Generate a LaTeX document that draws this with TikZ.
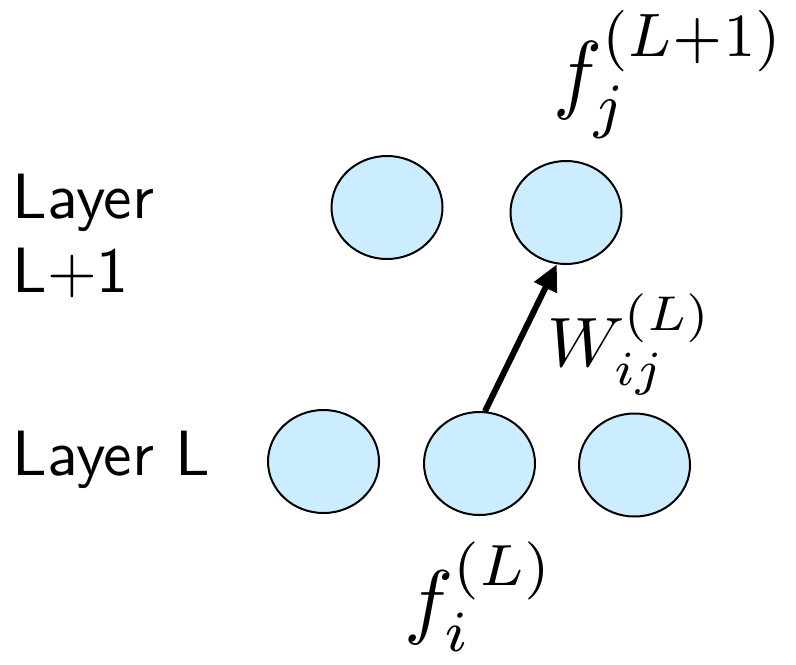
\documentclass[tikz,border=0pt]{standalone}
\usepackage{graphicx}
\usetikzlibrary{shapes.geometric,arrows.meta}
\definecolor{neuronblue}{RGB}{204,236,255}
\tikzset{
  neuron/.style={ellipse, draw=black, line width=1pt, fill=neuronblue,
    minimum width=55.5pt, minimum height=51.5pt, inner sep=0pt},
  layerlabel/.style={font=\sffamily, inner sep=0pt, anchor=base west},
  mathlabel/.style={inner sep=0pt, anchor=north west},
  weight/.style={line width=3pt, -{Triangle[length=13pt,width=12pt]}}
}
\begin{document}
\begin{tikzpicture}[x=0.5pt,y=-0.5pt]
\useasboundingbox (0,0) rectangle (796,664);
\node[neuron] (t1) at (387,207.5) {};
\node[neuron] (t2) at (566,212.5) {};
\node[neuron] (b1) at (323.5,461.5) {};
\node[neuron] (b2) at (479.5,463.5) {};
\node[neuron] (b3) at (634.5,465) {};
\draw[weight] (b2.84) -- (t2.260);
\node[layerlabel] (lup) at (12,292) {\scalebox{3.2}{\def\arraystretch{0.96}\begin{tabular}[b]{@{}l@{}}Layer\\L+1\end{tabular}}};
\node[layerlabel] (llow) at (12,475) {\scalebox{3.2}{Layer L}};
\node[mathlabel] (fj) at (553,10) {\resizebox*{116pt}{64pt}{$f_j^{(L+1)}$}};
\node[mathlabel] (fi) at (404,541) {\resizebox*{75pt}{55pt}{$f_i^{(L)}$}};
\node[mathlabel] (w) at (547,293) {\resizebox*{82.5pt}{51pt}{$W_{ij}^{(L)}$}};
\end{tikzpicture}
\end{document}
